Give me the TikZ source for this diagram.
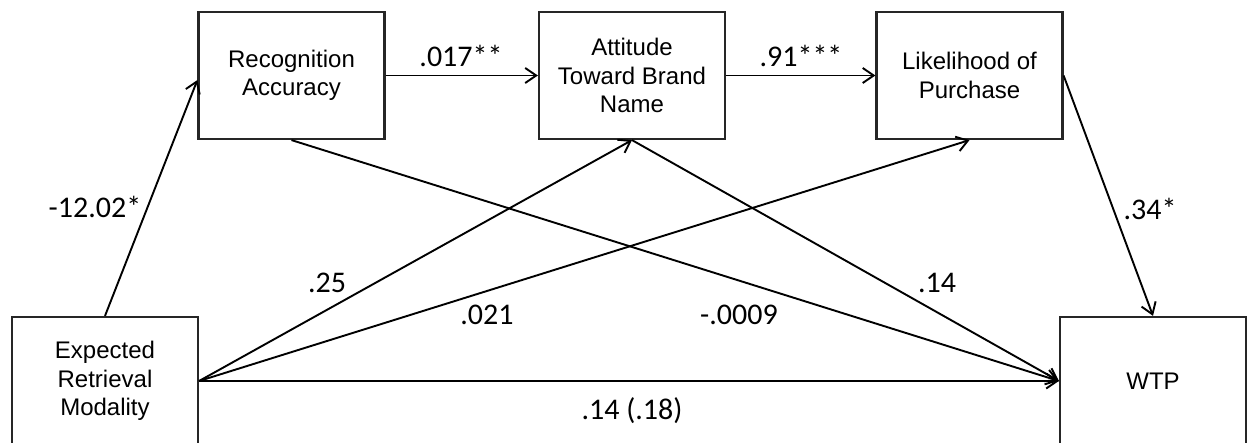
\documentclass[tikz,border=0pt]{standalone}
\usepackage{fontspec}
\setmainfont{Liberation Sans}
\newfontfamily\labelfont{Carlito}
\usetikzlibrary{arrows.meta,calc}
\tikzset{
  varbox/.style={draw=black!85, line width=2.2pt, rectangle, minimum width=186pt,
    minimum height=127pt, inner sep=0pt, align=center,
    font=\fontsize{24}{28.5}\selectfont},
  path/.style={draw=black, line width=1.9pt,
    -{Straight Barb[length=11pt,width=15pt,line width=1.9pt]}},
  coef/.style={anchor=base, inner sep=0pt, font=\labelfont\fontsize{30}{36}\selectfont}
}
\begin{document}
\begin{tikzpicture}[x=1pt,y=-1pt]
\useasboundingbox (0,0) rectangle (1248,443);
\fill[white] (0,0) rectangle (1248,443);

% variables
\node[varbox] (rec) at (291.5,75.5) {Recognition\\Accuracy};
\node[varbox] (att) at (632,75.5) {Attitude\\Toward Brand\\Name};
\node[varbox] (lik) at (969.5,75.5) {Likelihood of\\Purchase};
\node[varbox, minimum height=128pt] (exp) at (105,381) {Expected\\Retrieval\\Modality};
\node[varbox, minimum height=128pt] (wtp) at (1153,381) {WTP};

% paths
\draw[path] (exp.north) -- ($(rec.west)+(0,4.5)$);
\draw[path] (rec.east) -- (att.west);
\draw[path] (att.east) -- (lik.west);
\draw[path] (lik.east) -- (wtp.north);
\draw[path] (rec.south) -- (wtp.west);
\draw[path] (att.south) -- (wtp.west);
\draw[path] (exp.east) -- (att.south);
\draw[path] (exp.east) -- (lik.south);
\draw[path] (exp.east) -- (wtp.west);

% coefficients
\node[coef] (c1) at (95,218) {-12.02*};
\node[coef] (c2) at (461,67) {.017**};
\node[coef] (c3) at (801,67) {.91***};
\node[coef] (c4) at (1150,220) {.34*};
\node[coef] (c5) at (327,293) {.25};
\node[coef] (c6) at (487,325) {.021};
\node[coef] (c7) at (739,325) {-.0009};
\node[coef] (c8) at (937,293) {.14};
\node[coef] (c9) at (632,420) {.14 (.18)};
\end{tikzpicture}
\end{document}
